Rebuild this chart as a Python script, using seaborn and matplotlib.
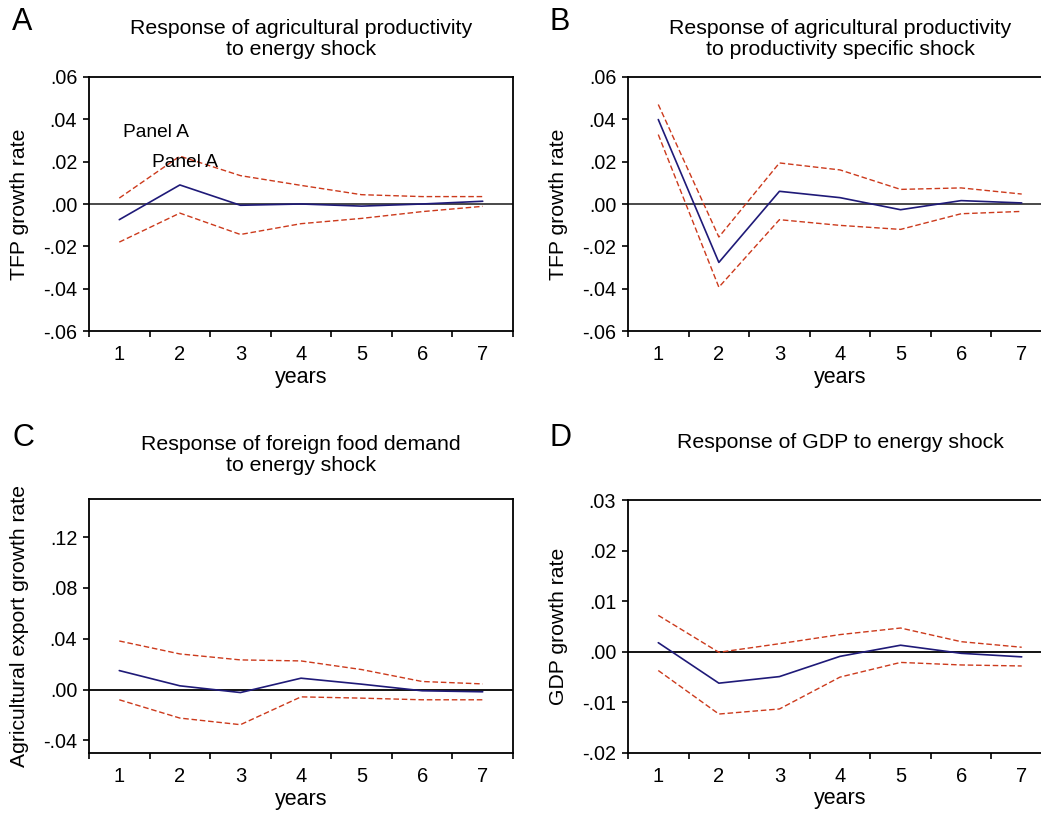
import numpy as np
import pandas as pd
import matplotlib
matplotlib.use('Agg')
import matplotlib.pyplot as plt
from matplotlib.ticker import FuncFormatter
import seaborn as sns

# Impulse responses (years 1-7)
years = [1, 2, 3, 4, 5, 6, 7]

a_mid = [-0.0074, 0.0090, -0.0006, 0.0000, -0.0010, 0.0000, 0.0013]
a_up = [0.0028, 0.0226, 0.0134, 0.0088, 0.0044, 0.0035, 0.0035]
a_lo = [-0.0180, -0.0043, -0.0144, -0.0093, -0.0068, -0.0036, -0.0011]

b_mid = [0.0399, -0.0276, 0.0060, 0.0030, -0.0027, 0.0016, 0.0005]
b_up = [0.0470, -0.0156, 0.0194, 0.0161, 0.0069, 0.0076, 0.0047]
b_lo = [0.0328, -0.0393, -0.0074, -0.0101, -0.0120, -0.0046, -0.0035]

c_mid = [0.0149, 0.0029, -0.0024, 0.0089, 0.0042, -0.0010, -0.0018]
c_up = [0.0382, 0.0280, 0.0233, 0.0225, 0.0157, 0.0063, 0.0044]
c_lo = [-0.0081, -0.0225, -0.0277, -0.0058, -0.0068, -0.0081, -0.0081]

d_mid = [0.0018, -0.0062, -0.0049, -0.0009, 0.0013, -0.0003, -0.0010]
d_up = [0.0072, -0.0001, 0.0016, 0.0034, 0.0047, 0.0020, 0.0009]
d_lo = [-0.0037, -0.0123, -0.0113, -0.0050, -0.0021, -0.0026, -0.0028]

titles = ['Response of agricultural productivity\nto energy shock',
          'Response of agricultural productivity\nto productivity specific shock',
          'Response of foreign food demand\nto energy shock',
          'Response of GDP to energy shock']
ylabels = ['TFP growth rate', 'TFP growth rate',
           'Agricultural export growth rate', 'GDP growth rate']
letters = ['A', 'B', 'C', 'D']
ylims = [(-0.06, 0.06), (-0.06, 0.06), (-0.05, 0.15), (-0.02, 0.03)]
yticks = [[-0.06, -0.04, -0.02, 0, 0.02, 0.04, 0.06],
          [-0.06, -0.04, -0.02, 0, 0.02, 0.04, 0.06],
          [-0.04, 0, 0.04, 0.08, 0.12],
          [-0.02, -0.01, 0, 0.01, 0.02, 0.03]]
series = [(a_mid, a_up, a_lo), (b_mid, b_up, b_lo),
          (c_mid, c_up, c_lo), (d_mid, d_up, d_lo)]

sns.set_style('ticks')
plt.rcParams['font.family'] = ['Liberation Sans', 'DejaVu Sans']
plt.rcParams['text.color'] = 'black'
plt.rcParams['axes.labelcolor'] = 'black'
plt.rcParams['xtick.color'] = 'black'
plt.rcParams['ytick.color'] = 'black'

navy = '#1f1a78'
red = '#cc3a1c'


def fmt(v, pos):
    s = f'{v:.2f}'
    return s.replace('0.', '.', 1)


fig = plt.figure(figsize=(10.41, 8.14), dpi=100)
W, H = 1041, 814
# axes boxes in pixels: left, top, right, bottom
boxes = [(89, 77, 513, 331), (628, 77, 1052, 331),
         (89, 499, 513, 753), (628, 500, 1052, 753)]
title_y = [39, 39, 455, 443]
zero_col = ['#3a3a3a', '#3a3a3a', 'black', 'black']

for i in range(4):
    l, t, r, b = boxes[i]
    ax = fig.add_axes([l / W, 1 - b / H, (r - l) / W, (b - t) / H])
    mid, up, lo = series[i]
    df = pd.DataFrame({'year': years * 3,
                       'value': mid + up + lo,
                       'band': ['mid'] * 7 + ['up'] * 7 + ['lo'] * 7})
    ax.axhline(0, color=zero_col[i], lw=1.3, zorder=1)
    sns.lineplot(data=df[df.band == 'up'], x='year', y='value', ax=ax,
                 color=red, lw=1.0, linestyle=(0, (4, 2)))
    sns.lineplot(data=df[df.band == 'lo'], x='year', y='value', ax=ax,
                 color=red, lw=1.0, linestyle=(0, (4, 2)))
    sns.lineplot(data=df[df.band == 'mid'], x='year', y='value', ax=ax,
                 color=navy, lw=1.2)

    ax.set_xlim(0.5, 7.5)
    ax.set_ylim(*ylims[i])
    ax.set_yticks(yticks[i])
    ax.yaxis.set_major_formatter(FuncFormatter(fmt))
    ax.set_xticks(np.arange(0.5, 8, 1))
    ax.set_xticklabels([])
    ax.set_xticks(years, minor=True)
    ax.set_xticklabels([str(y) for y in years], minor=True)
    ax.tick_params(axis='x', which='minor', length=0, pad=10, labelsize=14.5)
    ax.tick_params(axis='x', which='major', length=4.5, width=1.2, direction='out')
    ax.tick_params(axis='y', length=4.5, width=1.2, labelsize=14.2, pad=4)
    for sp in ax.spines.values():
        sp.set_visible(True)
        sp.set_linewidth(1.3)
        sp.set_color('black')
    ax.set_xlabel('years', fontsize=15.5)
    ax.xaxis.set_label_coords(0.5, -0.14)
    ax.set_ylabel(ylabels[i], fontsize=15.2)
    ax.yaxis.set_label_coords(-0.142, 0.5)
    fig.text((l + r) / 2 / W, 1 - title_y[i] / H, titles[i], fontsize=15.3,
             ha='center', va='center', linespacing=1.1)
    fig.text((12 if i % 2 == 0 else 549) / W, 1 - (22 if i < 2 else 438) / H,
             letters[i], fontsize=22, va='center', ha='left')

# stray labels in panel A
ax0 = fig.axes[0]
ax0.text(1.06, 0.034, 'Panel A', fontsize=13.8, va='center')
ax0.text(1.54, 0.0198, 'Panel A', fontsize=13.8, va='center')

fig.savefig('out.png', dpi=100)
